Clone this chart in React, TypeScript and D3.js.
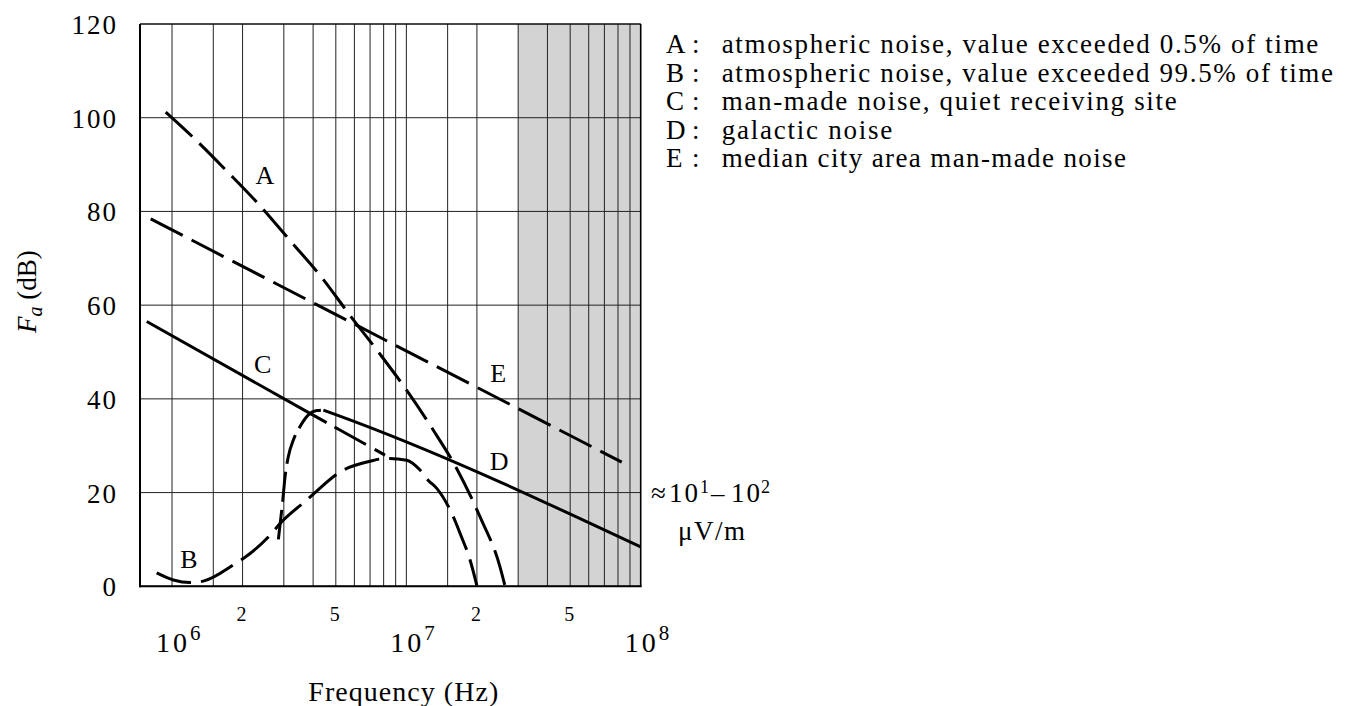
import React from "react";
import * as d3 from "d3";

// ---------- data (frequency in Hz, noise figure Fa in dB) ----------
const A_FREQ = [0.94e6, 1.225e6, 1.729e6, 2.375e6, 3.188e6, 4.355e6, 5.751e6, 7.595e6, 1.004e7, 1.304e7, 1.641e7, 2.063e7, 2.511e7, 2.638e7];
const A_DB = [101.2, 95.9, 88.4, 81.2, 73.8, 65.9, 57.8, 50.0, 41.8, 33.3, 25.1, 14.8, 4.1, 0];

const B_FREQ = [0.86e6, 1.013e6, 1.193e6, 1.36e6, 1.858e6, 2.049e6, 2.62e6, 2.891e6, 3.757e6, 5.384e6, 7.0e6, 8.246e6, 1.004e7, 1.144e7, 1.241e7, 1.348e7, 1.587e7, 1.695e7, 1.87e7, 1.998e7];
const B_DB = [2.85, 1.35, 0.8, 1.1, 4.8, 6.2, 10.9, 13.4, 18.4, 24.8, 26.7, 27.3, 26.9, 24.8, 22.6, 20.9, 14.8, 11.3, 5.6, 0.2];

const C_SOLID_FREQ = [0.78e6, 3.88e6];
const C_SOLID_DB = [56.5, 36.9];
const C_DASH_FREQ = [3.88e6, 8.11e6];
const C_DASH_DB = [36.9, 28.0];

const D_RISE_FREQ = [2.843e6, 2.969e6, 3.037e6, 3.136e6, 3.294e6, 3.518e6, 3.817e6, 4.147e6, 4.424e6];
const D_RISE_DB = [10.0, 18.4, 23.4, 27.7, 31.2, 34.1, 36.6, 37.5, 37.6];
const D_SOLID_FREQ = [4.424e6, 4.963e6, 1e8];
const D_SOLID_DB = [37.6, 36.7, 8.4];

const E_FREQ = [0.811e6, 8.3e7];
const E_DB = [78.4, 26.5];

const CURVE_LABELS = ["A", "B", "C", "D", "E"];
const CURVE_LABEL_FREQ = [2.49e6, 1.182e6, 2.434e6, 2.486e7, 2.463e7];
const CURVE_LABEL_DB = [85.85, 3.9, 45.45, 24.82, 43.66];

const LEGEND_KEYS = ["A", "B", "C", "D", "E"];
const LEGEND_TEXTS = [
  "atmospheric noise, value exceeded 0.5% of time",
  "atmospheric noise, value exceeded 99.5% of time",
  "man-made noise, quiet receiving site",
  "galactic noise",
  "median city area man-made noise",
];

const Y_TICKS = [0, 20, 40, 60, 80, 100, 120];
const DECADES = [1e6, 1e7, 1e8];
const DECADE_EXP = ["6", "7", "8"];
const MINOR_TICKS = [2e6, 5e6, 2e7, 5e7];
const MINOR_LABELS = ["2", "5", "2", "5"];
const GRID_MULT = [1, 1.5, 2, 3, 4, 5, 6, 7, 8, 9];
const SHADE = [3e7, 1e8];
const X_DOMAIN = [7.3e5, 1e8];
const Y_DOMAIN = [0, 120];

// ---------- layout ----------
const W = 1353;
const H = 706;
const L = 140;
const R = 640.7;
const T = 24;
const B = 586.3;
const TF = { fontFamily: "Liberation Serif" };
const LEGEND_WIDTHS = [596.6, 611.3, 455, 170.6, 404.3];

export default function App() {
  const x = d3.scaleLog().domain(X_DOMAIN).range([L, R]);
  const y = d3.scaleLinear().domain(Y_DOMAIN).range([B, T]);

  const smooth = d3
    .line<[number, number]>()
    .x((d) => x(d[0]))
    .y((d) => y(d[1]))
    .curve(d3.curveMonotoneX);
  const straight = d3
    .line<[number, number]>()
    .x((d) => x(d[0]))
    .y((d) => y(d[1]));

  const zip = (f: number[], v: number[]) => f.map((ff, i) => [ff, v[i]] as [number, number]);

  const gridFreqs: number[] = [];
  [1e6, 1e7].forEach((dec) => GRID_MULT.forEach((m) => gridFreqs.push(dec * m)));

  const dash = "36 10";
  const curveStyle = { fill: "none", stroke: "#000", strokeWidth: 3 } as const;

  return (
    <svg width={W} height={H} style={{ position: "absolute", left: 0, top: 0, background: "#fff" }}>
      {/* shaded band */}
      <rect x={x(SHADE[0])} y={T} width={x(SHADE[1]) - x(SHADE[0])} height={B - T} fill="#d3d3d3" />

      {/* vertical grid */}
      {gridFreqs.map((f, i) => (
        <line key={"vg" + i} x1={x(f)} x2={x(f)} y1={T} y2={B} stroke="#222" strokeWidth={1} />
      ))}
      {/* horizontal grid */}
      {Y_TICKS.map((v) => (
        <line key={"hg" + v} x1={L} x2={R} y1={y(v)} y2={y(v)} stroke="#222" strokeWidth={1} />
      ))}
      {/* frame */}
      <line x1={L} x2={L} y1={T} y2={B + 1} stroke="#000" strokeWidth={2} />
      <line x1={L - 1} x2={R + 1} y1={B} y2={B} stroke="#000" strokeWidth={2} />
      <line x1={R} x2={R} y1={T} y2={B} stroke="#000" strokeWidth={1.6} />
      <line x1={L} x2={R} y1={T} y2={T} stroke="#000" strokeWidth={1} />

      {/* curves */}
      <path d={smooth(zip(A_FREQ, A_DB)) || ""} {...curveStyle} strokeDasharray={dash} />
      <path d={smooth(zip(B_FREQ, B_DB)) || ""} {...curveStyle} strokeDasharray={dash} />
      <path d={straight(zip(C_SOLID_FREQ, C_SOLID_DB)) || ""} {...curveStyle} />
      <path d={straight(zip(C_DASH_FREQ, C_DASH_DB)) || ""} {...curveStyle} strokeDasharray="19 9 36 10" />
      <path d={smooth(zip(D_RISE_FREQ, D_RISE_DB)) || ""} {...curveStyle} strokeDasharray="30 8" />
      <path d={smooth(zip(D_SOLID_FREQ, D_SOLID_DB)) || ""} {...curveStyle} />
      <path d={straight(zip(E_FREQ, E_DB)) || ""} {...curveStyle} strokeDasharray={dash} />

      {/* curve labels */}
      {CURVE_LABELS.map((t, i) => (
        <text key={"cl" + t} style={TF} x={x(CURVE_LABEL_FREQ[i])} y={y(CURVE_LABEL_DB[i])} fontSize={26} textAnchor="middle">
          {t}
        </text>
      ))}

      {/* y tick labels */}
      {Y_TICKS.map((v) => (
        <text key={"yt" + v} style={TF} x={118} y={y(v) + 10} fontSize={27} textAnchor="end" letterSpacing={2}>
          {v}
        </text>
      ))}

      {/* y axis title */}
      <text style={TF} transform={`translate(35.5, 291.5) rotate(-90)`} fontSize={27} textAnchor="middle">
        <tspan fontStyle="italic">F</tspan>
        <tspan fontStyle="italic" fontSize={20} dy={6}>a</tspan>
        <tspan dy={-6}> (dB)</tspan>
      </text>

      {/* x tick labels */}
      {MINOR_TICKS.map((f, i) => (
        <text key={"mt" + i} style={TF} x={x(f) - 1} y={620.7} fontSize={20} textAnchor="middle">
          {MINOR_LABELS[i]}
        </text>
      ))}
      {DECADES.map((f, i) => (
        <text key={"dt" + i} style={TF} x={x(f) - 16} y={651.7} fontSize={28}>
          <tspan letterSpacing={3}>10</tspan>
          <tspan fontSize={21} dy={-12}>{DECADE_EXP[i]}</tspan>
        </text>
      ))}

      {/* x axis title */}
      <text style={TF} x={308.3} y={700.7} fontSize={28} textLength={190} lengthAdjust="spacing">
        Frequency (Hz)
      </text>

      {/* right annotation */}
      <text style={TF} y={501.7} fontSize={27}>
        <tspan x={651}>≈</tspan>
        <tspan x={669} letterSpacing={2}>10</tspan>
        <tspan x={700} fontSize={18} dy={-9}>1</tspan>
        <tspan x={711} dy={9}>–</tspan>
        <tspan x={731} letterSpacing={2}>10</tspan>
        <tspan x={761} fontSize={18} dy={-9}>2</tspan>
      </text>
      <text style={TF} x={711.5} y={540} fontSize={27} textAnchor="middle" textLength={67} lengthAdjust="spacing">
        μV/m
      </text>

      {/* legend */}
      {LEGEND_KEYS.map((k, i) => (
        <g key={"lg" + k}>
          <text style={TF} x={666} y={53.3 + i * 28.5} fontSize={27}>
            {k}
          </text>
          <text style={TF} x={692} y={53.3 + i * 28.5} fontSize={27}>
            :
          </text>
          <text
            style={TF}
            x={721.7}
            y={53.3 + i * 28.5}
            fontSize={27}
            textLength={LEGEND_WIDTHS[i]}
            lengthAdjust="spacing"
          >
            {LEGEND_TEXTS[i]}
          </text>
        </g>
      ))}
    </svg>
  );
}
